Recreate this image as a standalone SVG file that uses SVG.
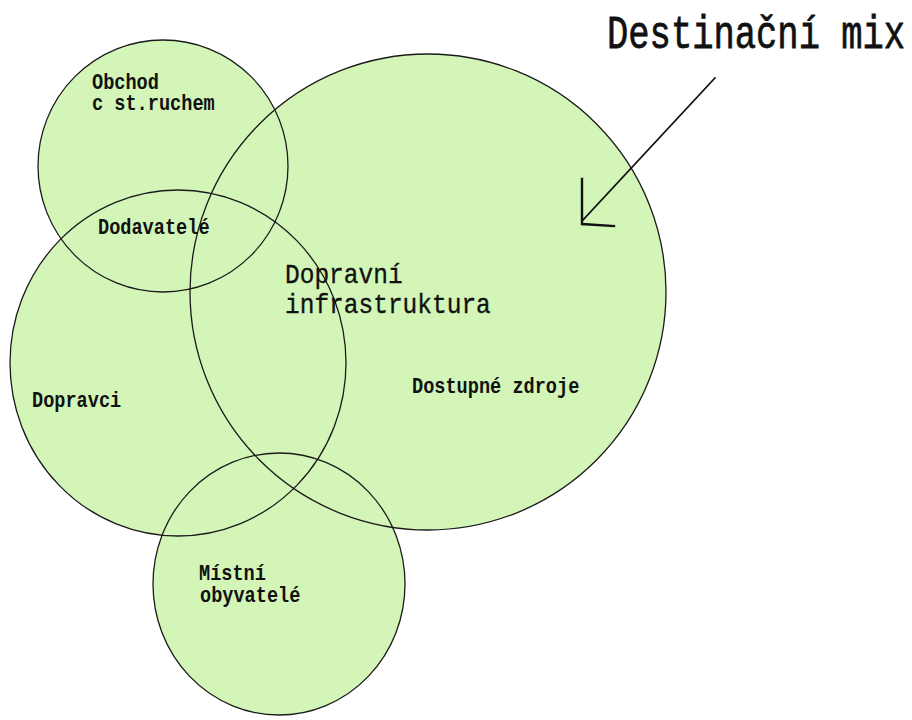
<svg xmlns="http://www.w3.org/2000/svg" width="912" height="720" viewBox="0 0 912 720">
<style>
.fill{fill:#d3f5b8;stroke:none}
.edge{fill:none;stroke:#1a1a1a;stroke-width:1.3}
.lbl{font-family:"Liberation Mono","DejaVu Sans Mono",monospace;font-weight:bold;font-size:18.6px;fill:#111}
.big{font-family:"Liberation Mono","DejaVu Sans Mono",monospace;font-size:24.5px;fill:#111;stroke:#111;stroke-width:0.3}
.title{font-family:"Liberation Mono","DejaVu Sans Mono",monospace;font-size:35.5px;fill:#111;stroke:#111;stroke-width:0.6}
.arr{stroke:#111;fill:none;stroke-linecap:square}
</style>
<rect width="912" height="720" fill="#ffffff"/>
<g id="fills">
<ellipse class="fill" cx="163" cy="166" rx="125" ry="126"/>
<ellipse class="fill" cx="428" cy="292" rx="238" ry="238"/>
<ellipse class="fill" cx="178" cy="363" rx="168" ry="173"/>
<ellipse class="fill" cx="279" cy="584" rx="126" ry="131"/>
</g>
<g id="node-obchod">
<ellipse class="edge" cx="163" cy="166" rx="125" ry="126"/>
<text class="lbl" x="92" y="89" transform="matrix(1,0,0,1.15,0,-13.35)">Obchod</text>
<text class="lbl" x="92" y="110" transform="matrix(1,0,0,1.15,0,-16.5)">c st.ruchem</text>
</g>
<g id="node-zdroje">
<ellipse class="edge" cx="428" cy="292" rx="238" ry="238"/>
<text class="lbl" x="412" y="393" transform="matrix(1,0,0,1.15,0,-58.95)">Dostupné zdroje</text>
</g>
<g id="node-dopravci">
<ellipse class="edge" cx="178" cy="363" rx="168" ry="173"/>
<text class="lbl" x="32" y="407" transform="matrix(1,0,0,1.15,0,-61.05)">Dopravci</text>
</g>
<g id="node-mistni">
<ellipse class="edge" cx="279" cy="584" rx="126" ry="131"/>
<text class="lbl" x="199" y="580" transform="matrix(1,0,0,1.15,0,-87)">Místní</text>
<text class="lbl" x="200" y="602" transform="matrix(1,0,0,1.15,0,-90.3)">obyvatelé</text>
</g>
<g id="node-dodavatele">
<text class="lbl" x="98" y="234" transform="matrix(1,0,0,1.15,0,-35.1)">Dodavatelé</text>
</g>
<g id="node-infra">
<text class="big" x="285" y="283" transform="matrix(1,0,0,1.1,0,-28.3)">Dopravní</text>
<text class="big" x="285" y="313" transform="matrix(1,0,0,1.1,0,-31.3)">infrastruktura</text>
</g>
<g id="title">
<text class="title" x="607" y="48" transform="matrix(1,0,0,1.3,0,-14.4)">Destinační mix</text>
</g>
<g id="connectors">
<line class="arr" x1="715" y1="78" x2="582" y2="221" stroke-width="1.6"/>
<polyline class="arr" points="582,179 582,224 614,226" stroke-width="2.4"/>
</g>
</svg>
